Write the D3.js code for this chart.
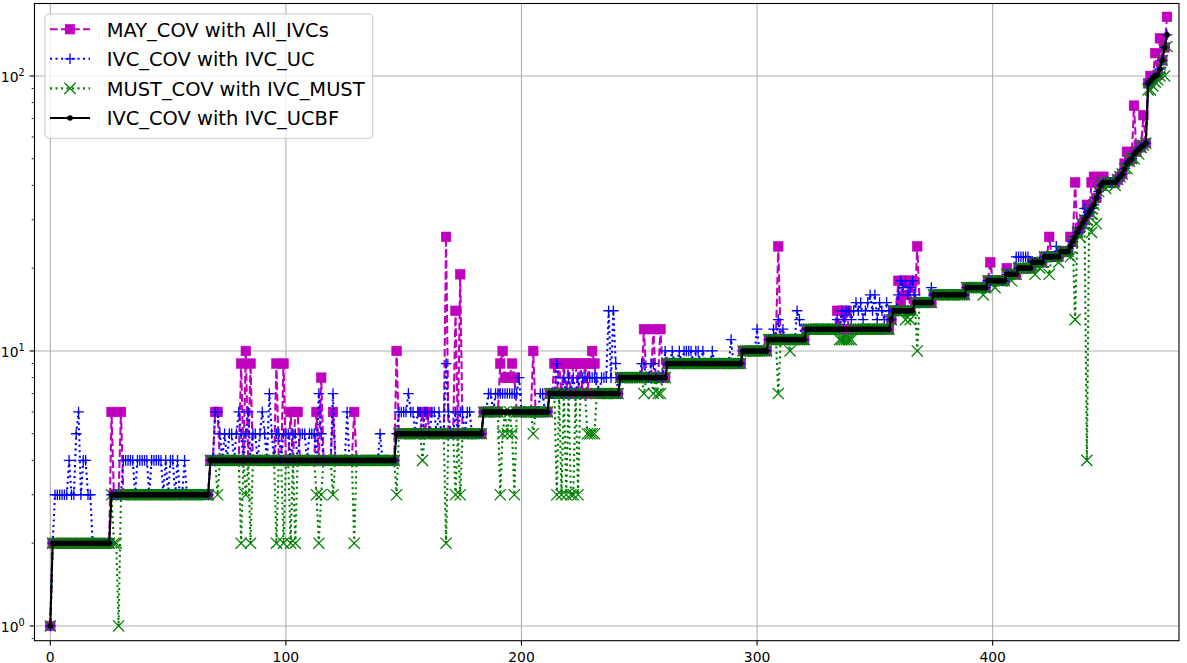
<!DOCTYPE html>
<html><head><meta charset="utf-8">
<script src="https://cdn.jsdelivr.net/npm/d3@7"></script>
<style>body{margin:0;background:#fff}svg{display:block}text{font-family:"DejaVu Sans",sans-serif}</style>
</head><body><svg id="c" width="1187" height="663"></svg>
<script>
// ---------------- DATA ----------------
const seriesLabels = ["MAY_COV with All_IVCs","IVC_COV with IVC_UC","MUST_COV with IVC_MUST","IVC_COV with IVC_UCBF"];
const xTicks = [0,100,200,300,400];
const yTicks = [1,10,100];
const yTickLabels = [["10","0"],["10","1"],["10","2"]];

// IVC_COV with IVC_UCBF as runs: [value, count]
const ucbfRuns = [[1,1],[2,25],[3,42],[4,79],[5,37],[6,28],[7,30],[8,20],[9,32],[10,11],[11,16],[12,36],[13,1],[14,9],[15,8],[16,14],[17,9],[18,8],[19,5],[20,6],[21,5],[22,7],[23,4],
 [24,1],[25,1],[26,1],[27,1],[28,1],[29,1],[30,1],[31,1],[32,1],[33,1],[34,1],[36,1],[38,1],[40,1],[41,6],
 [42,1],[43,1],[44,1],[46,1],[48,1],[49,1],[50,1],[52,1],[53,1],[54,1],[55,1],[56,1],[57,1],
 [94,1],[96,1],[98,1],[100,1],[101,1],[106,1],[114,1],[127,1],[141,1]];

// points where the other series differ from IVC_UCBF: [index, value]
const mayPoints = [[26,6],[30,6],[70,6],[71,6],[81,9],[83,10],[85,9],[96,9],[99,9],[102,6],[104,6],[105,6],[113,6],[115,8],[120,6],[129,6],[147,10],
 [158,6],[160,6],[168,26],[172,14],[174,19],
 [191,9],[192,10],[193,8],[194,8],[195,8],[196,9],[197,8],[205,10],
 [214,9],[216,9],[218,9],[220,9],[222,9],[223,9],[225,9],[227,9],[229,9],[230,10],[231,9],
 [252,12],[256,12],[259,12],[309,24],[334,14],[336,14],[338,14],
 [360,18],[361,15],[362,18],[363,16],[364,18],[366,18],[368,24],
 [399,21],[406,20],[424,26],[433,26],[435,41],[440,34],[442,41],[443,43],[445,42],[447,43],
 [456,48],[457,53],[460,78],[462,56],[464,72],[467,100],[469,121],[471,137],[474,164]];

const ucPoints = [[2,3],[3,3],[4,3],[5,3],[6,3],[7,3],[8,4],[9,3],[10,3],[11,5],[12,6],[13,3],[14,4],[15,4],[16,3],[17,3],
 [31,4],[32,4],[33,4],[34,4],[35,4],[37,4],[38,4],[39,4],[40,4],[41,4],[43,4],[44,4],[45,4],[46,4],[47,4],[49,4],[51,4],[52,4],[54,4],[57,4],
 [70,6],[71,6],[72,5],[74,5],[76,5],[77,5],[79,5],[80,6],[81,5],[83,5],[84,6],[86,5],[87,5],[89,5],[90,6],[91,5],[93,7],[94,5],
 [96,5],[97,5],[99,5],[100,5],[101,5],[103,5],[104,5],[106,5],[107,5],[108,5],[110,5],[111,5],[112,5],[114,7],[115,5],[120,7],[126,6],[140,5],
 [148,6],[149,6],[150,6],[151,6],[152,7],[153,6],[154,6],[156,6],[157,6],[159,6],[160,6],[162,6],[163,6],[165,6],[168,9],[169,6],[172,6],[174,6],[175,6],[177,6],[178,6],
 [186,7],[187,7],[189,7],[190,7],[191,7],[192,7],[193,7],[194,7],[195,7],[196,7],[197,7],[198,7],[199,8],[208,7],[209,7],
 [215,9],[218,8],[220,8],[222,8],[224,8],[226,8],[227,8],[228,8],[229,8],[230,8],[231,8],[232,8],[234,8],[235,8],[236,8],[237,14],[238,8],[239,14],[240,9],
 [251,9],[252,9],[255,9],[256,9],[261,10],
 [264,10],[267,10],[269,10],[270,10],[271,10],[272,10],[274,10],[275,10],[277,10],[281,10],[289,11],
 [300,12],[307,12],[309,13],[311,12],[317,14],[318,13],
 [334,13],[336,14],[337,13],[338,14],[339,14],[340,13],[341,14],[342,15],[343,14],[344,15],[345,13],[346,14],[347,15],[348,16],[349,14],[350,16],[351,13],[352,15],[353,14],[354,13],[355,15],[356,14],
 [360,16],[361,18],[362,17],[363,18],[364,16],[365,17],[366,18],[367,16],[374,17],
 [410,22],[411,22],[412,22],[413,22],[414,22],[415,22],[427,24],[439,33]];

const mustPoints = [[27,2],[28,2],[29,1],[71,3],[81,2],[83,3],[85,2],[96,2],[99,2],[102,2],[104,2],[113,3],[114,2],[115,3],[120,3],[129,2],[147,3],
 [158,4],[168,2],[172,3],[174,3],[191,3],[192,5],[194,5],[196,5],[197,3],[205,5],
 [215,3],[217,3],[219,3],[221,3],[222,3],[224,3],[228,5],[229,5],[230,5],[231,5],
 [252,7],[256,7],[258,7],[259,7],[309,7],[314,10],[335,11],[336,11],[337,11],[338,11],[339,11],[340,11],[363,13],[365,13],[368,10],
 [396,16],[401,17],[408,18],[418,19],[420,20],[424,19],[428,21],[433,22],[435,13],[437,26],[440,4],[442,27],[444,29],
 [448,39],[452,40],[457,46],[460,50],[462,52],[466,89],[467,89],[468,92],[469,95],[470,97],[471,100],[473,100],[474,128]];

// ---------------- BUILD ----------------
const ucbf = [];
ucbfRuns.forEach(([v,n]) => { for (let k=0;k<n;k++) ucbf.push(v); });
function withPoints(pts){ const a = ucbf.slice(); pts.forEach(([i,v]) => { a[i] = v; }); return a; }
const may = withPoints(mayPoints), uc = withPoints(ucPoints), must = withPoints(mustPoints);

const svg = d3.select("#c");
const L = 34.5, R = 1179, T = 3.5, B = 640.7;
const x = d3.scaleLinear().domain([-6.7, 479.1]).range([L, R]);
const y = d3.scaleLog().domain([0.884, 183.4]).range([B, T]);

// grid
const g = svg.append("g");
g.selectAll(".gx").data(xTicks).join("line").attr("x1",d=>x(d)).attr("x2",d=>x(d)).attr("y1",T).attr("y2",B)
 .attr("stroke","#b0b0b0").attr("stroke-width",1.1);
g.selectAll(".gy").data(yTicks).join("line").attr("y1",d=>y(d)).attr("y2",d=>y(d)).attr("x1",L).attr("x2",R)
 .attr("stroke","#b0b0b0").attr("stroke-width",1.1);

svg.append("clipPath").attr("id","pc").append("rect").attr("x",L).attr("y",T).attr("width",R-L).attr("height",B-T);
const plot = svg.append("g").attr("clip-path","url(#pc)");
const lineGen = d3.line().x((d,i)=>x(i)).y(d=>y(d));

const styles = [
 {data:may, color:"#bf00bf", dash:"7.7,3.3", marker:"s"},
 {data:uc, color:"#0000ff", dash:"2.1,3.4", marker:"+"},
 {data:must, color:"#008000", dash:"2.1,3.4", marker:"x"},
 {data:ucbf, color:"#000000", dash:null, marker:"."}
];
function drawMarker(sel, m, color){
 if (m==="s") sel.append("rect").attr("x",-4.8).attr("y",-4.8).attr("width",9.6).attr("height",9.6).attr("fill",color).attr("stroke",color).attr("stroke-width",0.6);
 else if (m==="+") sel.append("path").attr("d","M-5.3,0H5.3M0,-5.3V5.3").attr("stroke",color).attr("stroke-width",1.3).attr("fill","none");
 else if (m==="x") sel.append("path").attr("d","M-5.6,-5.6L5.6,5.6M-5.6,5.6L5.6,-5.6").attr("stroke",color).attr("stroke-width",1.3).attr("fill","none");
 else sel.append("circle").attr("r",2.8).attr("fill",color);
}
styles.forEach(s => {
 plot.append("path").datum(s.data).attr("d",lineGen).attr("fill","none").attr("stroke",s.color)
  .attr("stroke-width",2.08).attr("stroke-dasharray",s.dash);
 const mg = plot.append("g");
 s.data.forEach((v,i) => { const gg = mg.append("g").attr("transform",`translate(${x(i)},${y(v)})`); drawMarker(gg, s.marker, s.color); });
});

// frame
svg.append("rect").attr("x",L).attr("y",T).attr("width",R-L).attr("height",B-T).attr("fill","none").attr("stroke","#000").attr("stroke-width",1.1);

// x ticks
xTicks.forEach(t => {
 svg.append("line").attr("x1",x(t)).attr("x2",x(t)).attr("y1",B).attr("y2",B+4.9).attr("stroke","#000").attr("stroke-width",1.1);
 svg.append("text").attr("x",x(t)).attr("y",661.5).attr("text-anchor","middle").attr("font-size",13.9).text(t);
});
// y ticks
yTicks.forEach((t,k) => {
 svg.append("line").attr("x1",L-4.9).attr("x2",L).attr("y1",y(t)).attr("y2",y(t)).attr("stroke","#000").attr("stroke-width",1.1);
 const tx = svg.append("text").attr("x",L-9.8).attr("y",y(t)+6.3).attr("text-anchor","end").attr("font-size",13.9);
 tx.append("tspan").text(yTickLabels[k][0]);
 tx.append("tspan").attr("font-size",9.7).attr("dy",-6).text(yTickLabels[k][1]);
});
const minor = [];
[0.1,1,10].forEach(dec => { for (let m=2;m<=9;m++){ const v=m*dec; if (v>=0.884 && v<=183.4) minor.push(v);} });
minor.forEach(v => svg.append("line").attr("x1",L-2.8).attr("x2",L).attr("y1",y(v)).attr("y2",y(v)).attr("stroke","#000").attr("stroke-width",0.8));

// legend
const lg = svg.append("g");
lg.append("rect").attr("x",45).attr("y",14).attr("width",327.7).attr("height",124.3).attr("rx",4)
 .attr("fill","#fff").attr("fill-opacity",0.8).attr("stroke","#cccccc").attr("stroke-width",1.1);
styles.forEach((s,k) => {
 const cy = 29.2 + k*29.6;
 lg.append("line").attr("x1",50).attr("x2",90).attr("y1",cy).attr("y2",cy).attr("stroke",s.color).attr("stroke-width",2.08).attr("stroke-dasharray",s.dash);
 const mk = lg.append("g").attr("transform",`translate(70,${cy})`); drawMarker(mk, s.marker, s.color);
 lg.append("text").attr("x",106.7).attr("y",cy+7.3).attr("font-size",19.44).attr("fill","#000").text(seriesLabels[k]);
});
</script></body></html>
